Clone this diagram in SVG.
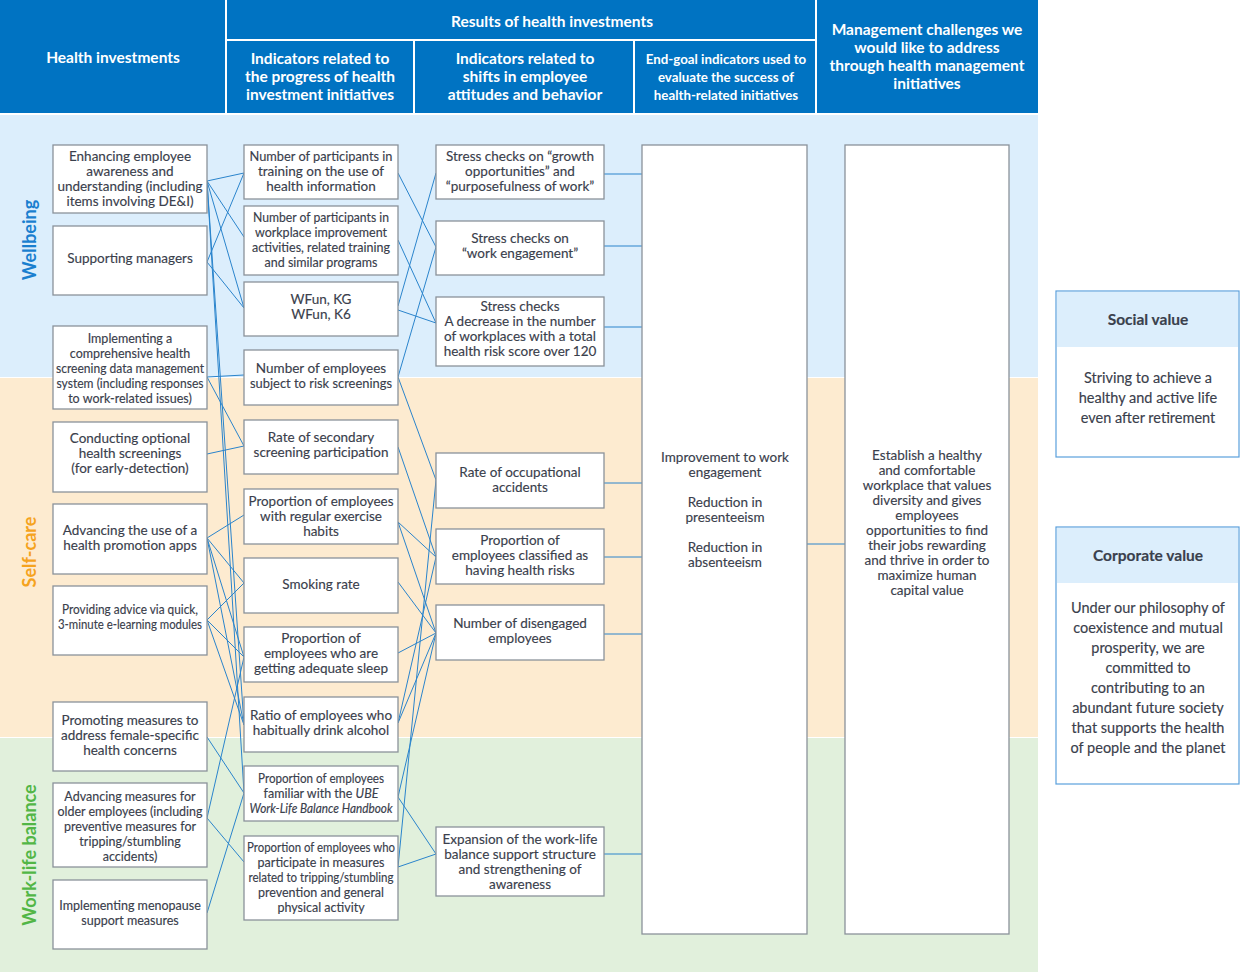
<svg xmlns="http://www.w3.org/2000/svg" width="1240" height="974" viewBox="0 0 1240 974">
<style>
text{font-family:Lato,"Liberation Sans",sans-serif;fill:#3a404c;font-size:13.5px;text-anchor:middle;stroke:#3a404c;stroke-width:0.15}
.h{fill:#fff;stroke:none;font-weight:bold;font-size:15.5px}
.h2{fill:#fff;stroke:none;font-weight:bold;font-size:13.3px}
.s{font-size:12.5px}
.box{fill:#fff;stroke:#8a929a;stroke-width:1.3}
.c{stroke:#2a84cc;stroke-width:1;fill:none}
.vb{fill:#fff;stroke:#5aa0dc;stroke-width:1.2}
.vh{fill:#dceefc}
.vt{font-size:14.5px}
.vtt{font-size:15.5px;font-weight:bold}
.side{font-weight:bold;font-size:18px;stroke:none}
</style>
<rect width="1240" height="974" fill="#fff"/>
<g id="bands">
<rect x="0" y="115" width="1038" height="262" fill="#dceefc"/>
<rect x="0" y="378" width="1038" height="359" fill="#fdebd0"/>
<rect x="0" y="738" width="1038" height="234" fill="#e1f0dc"/>
</g>
<g id="header">
<rect x="0" y="0" width="1038" height="113" fill="#0073c2"/>
<path d="M226 0V113M816 0V113M226 40H816M414 40V113M634 40V113" stroke="#fff" stroke-width="2" fill="none"/>
<text class="h" x="113" y="63">Health investments</text>
<text class="h" x="552" y="27">Results of health investments</text>
<text class="h"><tspan x="320" y="64">Indicators related to</tspan><tspan x="320" y="82">the progress of health</tspan><tspan x="320" y="100">investment initiatives</tspan></text>
<text class="h"><tspan x="525" y="64">Indicators related to</tspan><tspan x="525" y="82">shifts in employee</tspan><tspan x="525" y="100">attitudes and behavior</tspan></text>
<text class="h2"><tspan x="726" y="64">End-goal indicators used to</tspan><tspan x="726" y="82">evaluate the success of</tspan><tspan x="726" y="100">health-related initiatives</tspan></text>
<text class="h"><tspan x="927" y="35">Management challenges we</tspan><tspan x="927" y="53">would like to address</tspan><tspan x="927" y="71">through health management</tspan><tspan x="927" y="89">initiatives</tspan></text>
</g>
<g id="side-labels">
<text class="side" transform="translate(36 240) rotate(-90)" style="fill:#1a7fcf">Wellbeing</text>
<text class="side" transform="translate(36 552) rotate(-90)" style="fill:#f5a31e">Self-care</text>
<text class="side" transform="translate(36 855) rotate(-90)" style="fill:#52b646">Work-life balance</text>
</g>
<g id="connectors">
<path class="c" d="M207 181L244 173M207 181L244 237M207 181L244 308M207 181L244 725M207 181L244 793"/>
<path class="c" d="M207 262L244 173M207 262L244 308"/>
<path class="c" d="M207 377L244 375M207 377L244 446"/>
<path class="c" d="M207 454L244 446"/>
<path class="c" d="M207 538L244 515M207 538L244 583M207 538L244 657M207 538L244 725"/>
<path class="c" d="M207 620L244 583M207 620L244 657M207 620L244 725"/>
<path class="c" d="M207 737L244 793"/>
<path class="c" d="M207 818L244 862M207 818L244 657"/>
<path class="c" d="M207 913L244 793"/>
<path class="c" d="M398 173L436 247M398 240L436 323M398 306L436 173M398 310L436 323M398 377L436 247M398 377L436 480"/>
<path class="c" d="M398 447L436 557M398 522L436 557M398 522L436 633M398 582L436 633M398 653L436 633"/>
<path class="c" d="M398 723L436 557M398 723L436 633M398 797L436 854M398 797L436 633M398 867L436 854M398 867L436 480"/>
<path class="c" d="M604 174H642M604 246H642M604 327H642M604 483H642M604 557H642M604 634H642M604 854H642M807 544H845"/>
</g>
<g id="n1-1"><rect class="box" x="53" y="145" width="154" height="68"/><text><tspan x="130" y="161">Enhancing employee</tspan><tspan x="130" y="176">awareness and</tspan><tspan x="130" y="191">understanding (including</tspan><tspan x="130" y="206">items involving DE&amp;I)</tspan></text></g>
<g id="n1-2"><rect class="box" x="53" y="226" width="154" height="69"/><text x="130" y="263">Supporting managers</text></g>
<g id="n1-3"><rect class="box" x="53" y="326" width="154" height="83"/><text class="s"><tspan x="130" y="343">Implementing a</tspan><tspan x="130" y="358">comprehensive health</tspan></text><text class="s" x="130" y="373" textLength="148" lengthAdjust="spacingAndGlyphs">screening data management</text><text class="s" x="130" y="388" textLength="147" lengthAdjust="spacingAndGlyphs">system (including responses</text><text class="s" x="130" y="403">to work-related issues)</text></g>
<g id="n1-4"><rect class="box" x="53" y="422" width="154" height="70"/><text><tspan x="130" y="443">Conducting optional</tspan><tspan x="130" y="458">health screenings</tspan><tspan x="130" y="473">(for early-detection)</tspan></text></g>
<g id="n1-5"><rect class="box" x="53" y="504" width="154" height="70"/><text><tspan x="130" y="535">Advancing the use of a</tspan><tspan x="130" y="550">health promotion apps</tspan></text></g>
<g id="n1-6"><rect class="box" x="53" y="586" width="154" height="69"/><text class="s" x="130" y="614" textLength="136" lengthAdjust="spacingAndGlyphs">Providing advice via quick,</text><text class="s" x="130" y="629" textLength="144" lengthAdjust="spacingAndGlyphs">3-minute e-learning modules</text></g>
<g id="n1-7"><rect class="box" x="53" y="702" width="154" height="69"/><text><tspan x="130" y="725">Promoting measures to</tspan><tspan x="130" y="740">address female-specific</tspan><tspan x="130" y="755">health concerns</tspan></text></g>
<g id="n1-8"><rect class="box" x="53" y="783" width="154" height="84"/><text class="s"><tspan x="130" y="801">Advancing measures for</tspan></text><text class="s" x="130" y="816" textLength="145" lengthAdjust="spacingAndGlyphs">older employees (including</text><text class="s"><tspan x="130" y="831">preventive measures for</tspan><tspan x="130" y="846">tripping/stumbling</tspan><tspan x="130" y="861">accidents)</tspan></text></g>
<g id="n1-9"><rect class="box" x="53" y="880" width="154" height="69"/><text class="s"><tspan x="130" y="910">Implementing menopause</tspan><tspan x="130" y="925">support measures</tspan></text></g>
<g id="n2-1"><rect class="box" x="244" y="145" width="154" height="54"/><text x="321" y="161" textLength="143" lengthAdjust="spacingAndGlyphs">Number of participants in</text><text><tspan x="321" y="176">training on the use of</tspan><tspan x="321" y="191">health information</tspan></text></g>
<g id="n2-2"><rect class="box" x="244" y="206" width="154" height="69"/><text class="s" x="321" y="222" textLength="136" lengthAdjust="spacingAndGlyphs">Number of participants in</text><text class="s"><tspan x="321" y="237">workplace improvement</tspan></text><text class="s" x="321" y="252" textLength="138" lengthAdjust="spacingAndGlyphs">activities, related training</text><text class="s" x="321" y="267">and similar programs</text></g>
<g id="n2-3"><rect class="box" x="244" y="282" width="154" height="54"/><text><tspan x="321" y="304">WFun, KG</tspan><tspan x="321" y="319">WFun, K6</tspan></text></g>
<g id="n2-4"><rect class="box" x="244" y="350" width="154" height="55"/><text x="321" y="373">Number of employees</text><text x="321" y="388" textLength="142" lengthAdjust="spacingAndGlyphs">subject to risk screenings</text></g>
<g id="n2-5"><rect class="box" x="244" y="420" width="154" height="54"/><text><tspan x="321" y="442">Rate of secondary</tspan><tspan x="321" y="457">screening participation</tspan></text></g>
<g id="n2-6"><rect class="box" x="244" y="489" width="154" height="55"/><text x="321" y="506" textLength="145" lengthAdjust="spacingAndGlyphs">Proportion of employees</text><text><tspan x="321" y="521">with regular exercise</tspan><tspan x="321" y="536">habits</tspan></text></g>
<g id="n2-7"><rect class="box" x="244" y="558" width="154" height="55"/><text x="321" y="589">Smoking rate</text></g>
<g id="n2-8"><rect class="box" x="244" y="627" width="154" height="55"/><text><tspan x="321" y="643">Proportion of</tspan><tspan x="321" y="658">employees who are</tspan><tspan x="321" y="673">getting adequate sleep</tspan></text></g>
<g id="n2-9"><rect class="box" x="244" y="697" width="154" height="55"/><text><tspan x="321" y="720">Ratio of employees who</tspan><tspan x="321" y="735">habitually drink alcohol</tspan></text></g>
<g id="n2-10"><rect class="box" x="244" y="766" width="154" height="55"/><text class="s" x="321" y="783" textLength="126" lengthAdjust="spacingAndGlyphs">Proportion of employees</text><text class="s" x="321" y="798">familiar with the <tspan font-style="italic">UBE</tspan></text><text class="s" x="321" y="813" font-style="italic" textLength="143" lengthAdjust="spacingAndGlyphs">Work-Life Balance Handbook</text></g>
<g id="n2-11"><rect class="box" x="244" y="836" width="154" height="84"/><text class="s" x="321" y="852" textLength="148" lengthAdjust="spacingAndGlyphs">Proportion of employees who</text><text class="s" x="321" y="867">participate in measures</text><text class="s" x="321" y="882" textLength="145" lengthAdjust="spacingAndGlyphs">related to tripping/stumbling</text><text class="s"><tspan x="321" y="897">prevention and general</tspan><tspan x="321" y="912">physical activity</tspan></text></g>
<g id="n3-1"><rect class="box" x="436" y="145" width="168" height="54"/><text><tspan x="520" y="161">Stress checks on “growth</tspan><tspan x="520" y="176">opportunities” and</tspan><tspan x="520" y="191">“purposefulness of work”</tspan></text></g>
<g id="n3-2"><rect class="box" x="436" y="221" width="168" height="54"/><text><tspan x="520" y="243">Stress checks on</tspan><tspan x="520" y="258">“work engagement”</tspan></text></g>
<g id="n3-3"><rect class="box" x="436" y="297" width="168" height="69"/><text><tspan x="520" y="311">Stress checks</tspan><tspan x="520" y="326">A decrease in the number</tspan><tspan x="520" y="341">of workplaces with a total</tspan><tspan x="520" y="356">health risk score over 120</tspan></text></g>
<g id="n3-4"><rect class="box" x="436" y="453" width="168" height="55"/><text><tspan x="520" y="477">Rate of occupational</tspan><tspan x="520" y="492">accidents</tspan></text></g>
<g id="n3-5"><rect class="box" x="436" y="529" width="168" height="55"/><text><tspan x="520" y="545">Proportion of</tspan><tspan x="520" y="560">employees classified as</tspan><tspan x="520" y="575">having health risks</tspan></text></g>
<g id="n3-6"><rect class="box" x="436" y="605" width="168" height="55"/><text><tspan x="520" y="628">Number of disengaged</tspan><tspan x="520" y="643">employees</tspan></text></g>
<g id="n3-7"><rect class="box" x="436" y="827" width="168" height="69"/><text><tspan x="520" y="844">Expansion of the work-life</tspan><tspan x="520" y="859">balance support structure</tspan><tspan x="520" y="874">and strengthening of</tspan><tspan x="520" y="889">awareness</tspan></text></g>
<g id="n4"><rect class="box" x="642" y="145" width="165" height="789"/><text><tspan x="725" y="462">Improvement to work</tspan><tspan x="725" y="477">engagement</tspan><tspan x="725" y="507">Reduction in</tspan><tspan x="725" y="522">presenteeism</tspan><tspan x="725" y="552">Reduction in</tspan><tspan x="725" y="567">absenteeism</tspan></text></g>
<g id="n5"><rect class="box" x="845" y="145" width="164" height="789"/><text><tspan x="927" y="460">Establish a healthy</tspan><tspan x="927" y="475">and comfortable</tspan><tspan x="927" y="490">workplace that values</tspan><tspan x="927" y="505">diversity and gives</tspan><tspan x="927" y="520">employees</tspan><tspan x="927" y="535">opportunities to find</tspan><tspan x="927" y="550">their jobs rewarding</tspan><tspan x="927" y="565">and thrive in order to</tspan><tspan x="927" y="580">maximize human</tspan><tspan x="927" y="595">capital value</tspan></text></g>
<g id="social-value"><rect class="vb" x="1056" y="291" width="183" height="166"/><rect class="vh" x="1057" y="292" width="181" height="55"/><text class="vtt" x="1148" y="325">Social value</text><text class="vt"><tspan x="1148" y="383">Striving to achieve a</tspan><tspan x="1148" y="403">healthy and active life</tspan><tspan x="1148" y="423">even after retirement</tspan></text></g>
<g id="corporate-value"><rect class="vb" x="1056" y="527" width="183" height="257"/><rect class="vh" x="1057" y="528" width="181" height="55"/><text class="vtt" x="1148" y="561">Corporate value</text><text class="vt"><tspan x="1148" y="613">Under our philosophy of</tspan><tspan x="1148" y="633">coexistence and mutual</tspan><tspan x="1148" y="653">prosperity, we are</tspan><tspan x="1148" y="673">committed to</tspan><tspan x="1148" y="693">contributing to an</tspan><tspan x="1148" y="713">abundant future society</tspan><tspan x="1148" y="733">that supports the health</tspan><tspan x="1148" y="753">of people and the planet</tspan></text></g>
</svg>
